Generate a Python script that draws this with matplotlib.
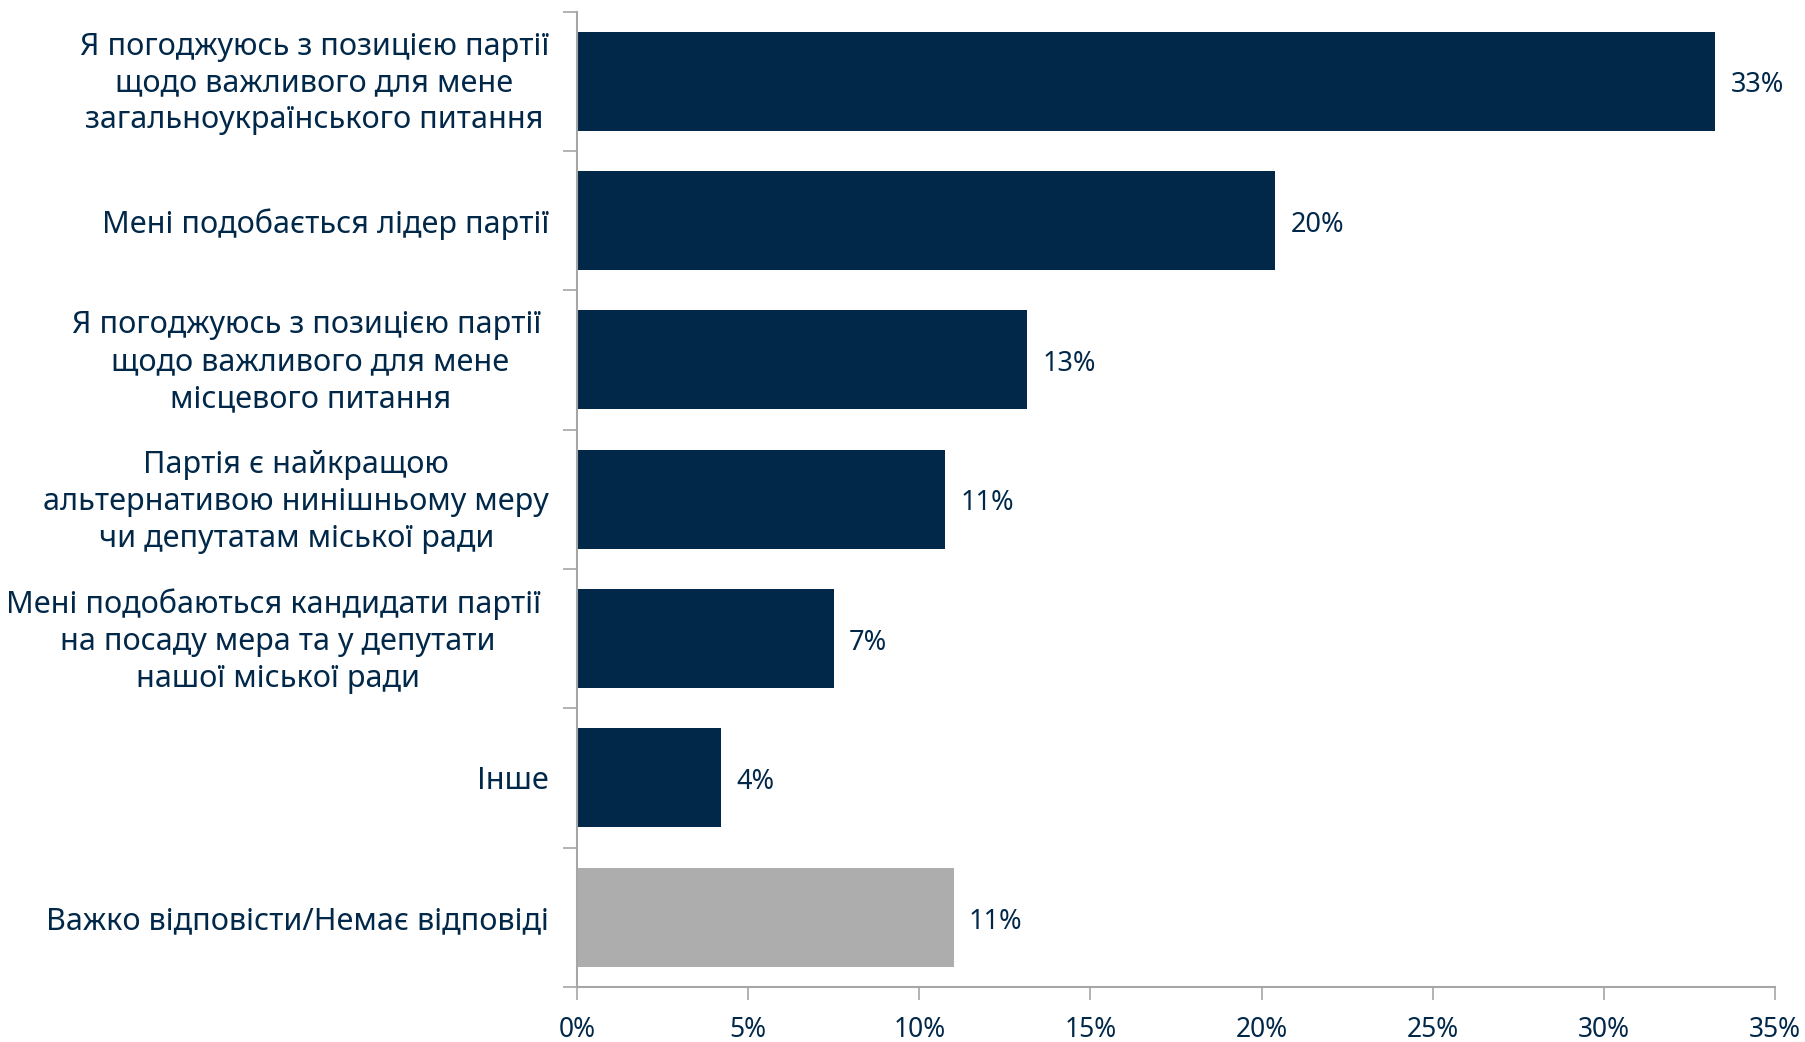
import matplotlib
matplotlib.use("Agg")
import matplotlib.pyplot as plt
import matplotlib.transforms as mtransforms
import numpy as np

categories = [
    "Я погоджуюсь з позицією партії\nщодо важливого для мене\nзагальноукраїнського питання",
    "Мені подобається лідер партії",
    "Я погоджуюсь з позицією партії \nщодо важливого для мене\nмісцевого питання",
    "Партія є найкращою\nальтернативою нинішньому меру\nчи депутатам міської ради",
    "Мені подобаються кандидати партії \nна посаду мера та у депутати\nнашої міської ради",
    "Інше",
    "Важко відповісти/Немає відповіді",
]
values = [33.25, 20.4, 13.15, 10.75, 7.5, 4.2, 11.0]
value_labels = ["33%", "20%", "13%", "11%", "7%", "4%", "11%"]
xticks = [0, 5, 10, 15, 20, 25, 30, 35]
xtick_labels = ["0%", "5%", "10%", "15%", "20%", "25%", "30%", "35%"]

NAVY = "#012849"
GRAY = "#ADADAE"
AXC = "#A6A6A6"

plt.rcParams['font.family'] = ['Noto Sans', 'DejaVu Sans']

W, H = 1806, 1042
fig = plt.figure(figsize=(W / 100, H / 100), dpi=100)
left, right, top, bottom = 577, 1775, 11.5, 987
ax = fig.add_axes([left / W, 1 - bottom / H, (right - left) / W, (bottom - top) / H])

n = len(categories)
ypos = np.arange(n)
colors = [NAVY] * (n - 1) + [GRAY]
ax.barh(ypos, values, height=0.71, color=colors)
ax.set_ylim(n - 0.5, -0.5)
ax.set_xlim(0, 35)

for y, v, lab in zip(ypos, values, value_labels):
    ax.text(v + 0.45, y + 0.03, lab, va="center", ha="left", fontsize=19.5, color=NAVY)

ax.set_xticks(xticks)
ax.set_xticklabels(xtick_labels, fontsize=19, color=NAVY)
ax.set_yticks(ypos)
ax.set_yticklabels(categories, fontsize=22, color=NAVY, linespacing=1.3,
                   ha="right", multialignment="center")
ax.tick_params(axis="y", length=0, pad=20)
shift = mtransforms.ScaledTranslation(0, 3.3 / 72, fig.dpi_scale_trans)
for lbl in ax.get_yticklabels():
    if "\n" in lbl.get_text():
        lbl.set_transform(lbl.get_transform() + shift)
# boundary ticks on y-axis
ax.set_yticks(np.arange(-0.5, n, 1.0), minor=True)
ax.tick_params(axis="y", which="minor", length=10, color=AXC, width=1.2)
ax.tick_params(axis="x", length=9, color=AXC, width=1.2, pad=12)

for s in ["top", "right"]:
    ax.spines[s].set_visible(False)
for s in ["left", "bottom"]:
    ax.spines[s].set_color(AXC)
    ax.spines[s].set_linewidth(1.5)

fig.savefig("out.png", dpi=100)
